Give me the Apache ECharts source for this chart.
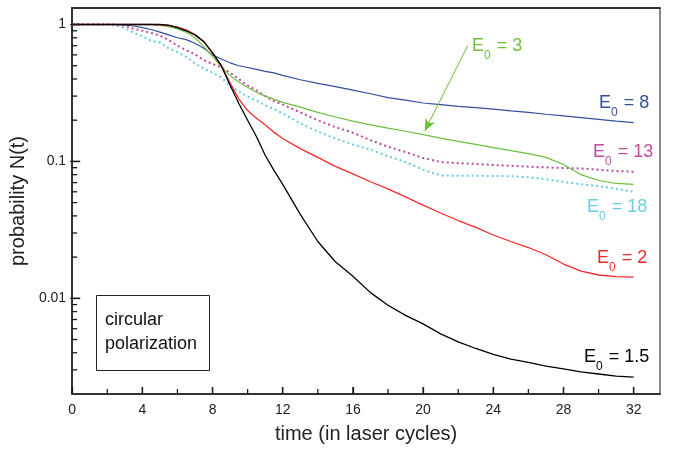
<!DOCTYPE html>
<html>
<head>
<meta charset="utf-8">
<script src="https://cdn.jsdelivr.net/npm/echarts@6/dist/echarts.min.js"></script>
<style>
html,body{margin:0;padding:0;background:#fff;}
#chart{width:673px;height:449px;}
</style>
</head>
<body>
<div id="chart"></div>
<script>
// ---- data ----
const time = [0,1,2,2.5,3,3.5,4,4.5,5,5.5,6,6.5,7,7.5,8,8.5,9,9.5,10,10.5,11,11.5,12,
  13,14,15,16,17,18,19,20,21,22,23,24,25,26,27,28,29,30,31,32];

const probE1_5 = [1,1,1,1,1,1,1,1,1,0.99,0.95,0.9,0.84,0.75,0.62,0.5,0.36,0.265,0.2,0.152,0.111,0.086,0.068,
  0.041,0.026,0.0185,0.0145,0.011,0.0089,0.0075,0.0065,0.0055,0.0048,0.0043,0.0039,0.0036,0.0034,0.0032,0.00305,0.0029,0.0028,0.0027,0.00266];

const probE2 = [1,1,1,1,1,1,1,1,0.995,0.98,0.955,0.915,0.846,0.75,0.62,0.5,0.375,0.285,0.235,0.207,0.185,0.163,0.147,
  0.124,0.107,0.092,0.081,0.071,0.063,0.055,0.048,0.042,0.037,0.033,0.029,0.026,0.0235,0.0208,0.0178,0.0158,0.0148,0.0144,0.0143];

const probE3 = [1,1,1,1,1,1,1,1,0.99,0.965,0.93,0.88,0.8,0.69,0.585,0.49,0.425,0.38,0.348,0.32,0.3,0.284,0.27,
  0.249,0.228,0.211,0.197,0.185,0.175,0.166,0.157,0.148,0.14,0.133,0.126,0.12,0.114,0.107,0.095,0.08,0.0725,0.069,0.068];

const probE8 = [1,1,1,1,0.995,0.975,0.95,0.92,0.88,0.84,0.8,0.775,0.73,0.67,0.6,0.56,0.525,0.5,0.485,0.47,0.455,0.443,0.425,
  0.395,0.372,0.352,0.332,0.312,0.292,0.28,0.267,0.26,0.252,0.247,0.241,0.234,0.228,0.221,0.215,0.209,0.203,0.197,0.192];

const probE13 = [1,1,1,1,0.98,0.93,0.9,0.87,0.83,0.77,0.7,0.65,0.605,0.55,0.515,0.485,0.445,0.4,0.36,0.33,0.3,0.276,0.26,
  0.228,0.2,0.178,0.162,0.143,0.128,0.117,0.106,0.099,0.097,0.096,0.094,0.093,0.0915,0.0903,0.0895,0.0888,0.087,0.085,0.084];

const probE18 = [1,1,1,0.985,0.94,0.87,0.82,0.76,0.74,0.67,0.63,0.58,0.52,0.475,0.445,0.41,0.355,0.325,0.297,0.278,0.257,0.241,0.224,
  0.19,0.165,0.147,0.133,0.122,0.109,0.099,0.087,0.079,0.0785,0.0785,0.0783,0.078,0.0765,0.0743,0.071,0.068,0.066,0.063,0.06];

const xTickValues = [0,4,8,12,16,20,24,28,32];
const xTickLabels = ['0','4','8','12','16','20','24','28','32'];
const yTickValues = [0.01,0.1,1];
const yTickLabels = ['0.01','0.1','1'];
const seriesNames = ['E0 = 1.5','E0 = 2','E0 = 3','E0 = 8','E0 = 13','E0 = 18'];
const labelValues = ['1.5','2','3','8','13','18'];
const arrowFrom = [22.54, 0.70];
const arrowTo = [20.1, 0.167];

// ---- layout / styles ----
const FONT = '"Liberation Sans", Arial, Helvetica, sans-serif';
const X_MIN = 0, X_MAX = 33.5, Y_MIN = 0.002, Y_MAX = 1.32;
const colors = {
  k: '#000000', r: '#f42a2a', g: '#6cbf3c', b: '#33509f', m: '#bf4aa0', c: '#68cbe0'
};
const TICK = '#1a1a1a';

// minor tick positions (axis decoration)
const yMinor = [];
[0.001, 0.01, 0.1].forEach(d => { for (let m = 2; m <= 9; m++) { const v = +(m * d).toPrecision(3); if (v > Y_MIN && v < Y_MAX) yMinor.push(v); } });
const xMinor = [];
for (let t = 2; t < 33; t += 4) xMinor.push(t);

function pairs(arr) { return time.map((t, i) => [t, arr[i]]); }

function lineSeries(name, arr, color, opts) {
  return Object.assign({
    type: 'line', name: name, data: pairs(arr), showSymbol: false, symbol: 'none',
    smooth: false, z: 3,
    lineStyle: { color: color, width: 1.3 }
  }, opts || {});
}

function subLabel(value, color) {
  return {
    text: '{e|E}{s|0}{e| = ' + value + '}',
    rich: {
      e: { fontSize: 18, fontFamily: FONT, fill: color, lineHeight: 18, verticalAlign: 'top' },
      s: { fontSize: 12, fontFamily: FONT, fill: color, lineHeight: 12, verticalAlign: 'top', padding: [13, 1, 0, 0] }
    }
  };
}

const chart = echarts.init(document.getElementById('chart'), null, { renderer: 'canvas' });

const labelGraphics = [
  { type: 'rect', left: 96, top: 295, shape: { width: 113, height: 75 }, style: { fill: '#fff', stroke: '#222', lineWidth: 1 }, z: 10 },
  { type: 'text', left: 105, top: 308, z: 11, style: { text: 'circular\npolarization', fontSize: 18, lineHeight: 24, fontFamily: FONT, fill: '#111' } },
  { type: 'text', left: 472, top: 37, z: 11, style: subLabel(labelValues[2], colors.g) },
  { type: 'text', left: 599, top: 94, z: 11, style: subLabel(labelValues[3], colors.b) },
  { type: 'text', left: 593, top: 143, z: 11, style: subLabel(labelValues[4], '#c24ba0') },
  { type: 'text', left: 587, top: 198, z: 11, style: subLabel(labelValues[5], '#6dcde0') },
  { type: 'text', left: 597, top: 249, z: 11, style: subLabel(labelValues[1], colors.r) },
  { type: 'text', left: 584, top: 348, z: 11, style: subLabel(labelValues[0], '#000') }
];

const option = {
  animation: false,
  backgroundColor: '#ffffff',
  grid: { left: 70, right: 13, top: 8, bottom: 53, show: true, borderColor: '#111', borderWidth: 1 },
  xAxis: [{
    type: 'value', min: X_MIN, max: X_MAX, interval: 4, position: 'bottom',
    axisLine: { show: true, onZero: false, lineStyle: { color: '#333', width: 2 } },
    axisTick: { show: true, inside: true, length: 7, lineStyle: { color: TICK, width: 1.3 } },
    axisLabel: {
      color: '#222', fontSize: 14, fontFamily: FONT, margin: 9, showMaxLabel: false,
      formatter: v => { const i = xTickValues.indexOf(v); return i >= 0 ? xTickLabels[i] : ''; }
    },
    splitLine: { show: false },
    name: 'time (in laser cycles)', nameLocation: 'middle', nameGap: 30,
    nameTextStyle: { color: '#222', fontSize: 20, fontFamily: FONT }
  }, {
    type: 'value', min: X_MIN, max: X_MAX, position: 'top',
    axisLine: { show: true, onZero: false, lineStyle: { color: '#333', width: 2 } },
    axisTick: { show: false }, axisLabel: { show: false }, splitLine: { show: false }
  }],
  yAxis: {
    type: 'log', min: Y_MIN, max: Y_MAX,
    axisLine: { show: true, onZero: false, lineStyle: { color: '#333', width: 2 } },
    axisTick: { show: true, inside: true, length: 8, lineStyle: { color: TICK, width: 1.3 } },
    axisLabel: {
      color: '#222', fontSize: 14, fontFamily: FONT, margin: 6, showMinLabel: false, showMaxLabel: false,
      formatter: v => {
        for (let i = 0; i < yTickValues.length; i++) if (Math.abs(Math.log10(v) - Math.log10(yTickValues[i])) < 1e-6) return yTickLabels[i];
        return '';
      }
    },
    splitLine: { show: false },
    name: 'probability N(t)', nameLocation: 'middle', nameGap: 31, nameRotate: 90,
    nameTextStyle: { color: '#222', fontSize: 20, fontFamily: FONT }
  },
  series: [
    lineSeries(seriesNames[5], probE18, colors.c, { lineStyle: { color: colors.c, width: 2, type: [2, 3] } }),
    lineSeries(seriesNames[4], probE13, colors.m, { lineStyle: { color: colors.m, width: 2, type: [2, 3] } }),
    lineSeries(seriesNames[3], probE8, colors.b, { lineStyle: { color: colors.b, width: 1.2 } }),
    lineSeries(seriesNames[2], probE3, colors.g, {
      lineStyle: { color: colors.g, width: 1.2 },
      markLine: {
        silent: true, symbol: ['none', 'arrow'], symbolSize: [8, 12], animation: false,
        lineStyle: { color: colors.g, width: 1, type: 'solid' }, label: { show: false },
        data: [[{ coord: arrowFrom }, { coord: arrowTo }]]
      }
    }),
    lineSeries(seriesNames[1], probE2, colors.r, { lineStyle: { color: colors.r, width: 1.3 } }),
    lineSeries(seriesNames[0], probE1_5, colors.k, { lineStyle: { color: colors.k, width: 1.3 } })
  ]
};
chart.setOption(option);

// minor ticks as thin filled rects, placed through the chart's own scales
const toPx = (t, v) => chart.convertToPixel({ xAxisIndex: 0, yAxisIndex: 0 }, [t, v]);
const tickRects = [];
function addRect(x, y, w, h) {
  if (!isFinite(x) || !isFinite(y)) return;
  tickRects.push({ type: 'rect', z: 20, silent: true, shape: { x: x, y: y, width: w, height: h }, style: { fill: TICK } });
}
xMinor.forEach(t => { const p = toPx(t, Y_MIN); addRect(p[0] - 0.65, p[1] - 5, 1.3, 5); });
yMinor.forEach(v => { const p = toPx(X_MIN, v); addRect(p[0], p[1] - 0.65, 5, 1.3); });
yTickValues.forEach(v => { const p = toPx(X_MIN, v); addRect(p[0] - 2, p[1] - 0.65, 10, 1.3); });
xTickValues.forEach(t => { const p = toPx(t, Y_MIN); addRect(p[0] - 0.65, p[1] - 7, 1.3, 7); });

chart.setOption({ graphic: labelGraphics.concat(tickRects) });
</script>
</body>
</html>
